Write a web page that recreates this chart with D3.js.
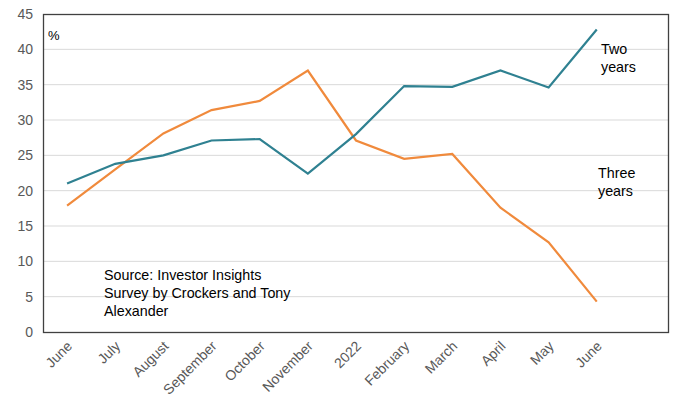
<!DOCTYPE html>
<html>
<head>
<meta charset="utf-8">
<script src="https://cdn.jsdelivr.net/npm/d3@7"></script>
<style>
  body { margin: 0; background: white; }
  text { font-family: "Liberation Sans", Arial, sans-serif; }
</style>
</head>
<body>
<script>
const categories = ["June", "July", "August", "September", "October", "November", "2022", "February", "March", "April", "May", "June"]
const twoYears = [21, 23.8, 25, 27.1, 27.3, 22.4, 28, 34.8, 34.7, 37, 34.6, 42.8]
const threeYears = [17.9, 23, 28.1, 31.4, 32.7, 37, 27.1, 24.5, 25.2, 17.6, 12.7, 4.3]
const yTicks = [0, 5, 10, 15, 20, 25, 30, 35, 40, 45]

const w = 678
const h = 400
const m = {top: 14, right: 9, bottom: 68, left: 43}

// 13 slots, the last one is left empty like the original
const slots = categories.map((d, i) => i).concat([12])
const xScale = d3.scaleBand()
                 .domain(slots)
                 .range([m.left, w - m.right])
const yScale = d3.scaleLinear()
                 .domain([0, 45])
                 .range([h - m.bottom, m.top])
const cx = (i) => xScale(i) + xScale.bandwidth() / 2

const svg = d3.select("body")
              .append("svg")
              .attr("width", w)
              .attr("height", h)

// gridlines
svg.append("g")
   .selectAll("line")
   .data(yTicks.slice(1, -1))
   .enter()
   .append("line")
   .attr("x1", m.left)
   .attr("x2", w - m.right)
   .attr("y1", (d) => yScale(d))
   .attr("y2", (d) => yScale(d))
   .attr("stroke", "#d9d9d9")
   .attr("stroke-width", 1)

// y axis labels
const yAxis = d3.axisLeft(yScale).tickValues(yTicks).tickSize(0).tickPadding(10)
const gy = svg.append("g")
   .attr("transform", "translate(" + m.left + ",0)")
   .call(yAxis)
gy.select(".domain").remove()
gy.selectAll("text")
  .attr("fill", "#595959")
  .style("font-size", "14px")

// x axis labels
const xAxis = d3.axisBottom(xScale)
                .tickValues(categories.map((d, i) => i))
                .tickFormat((i) => categories[i])
                .tickSize(0)
const gx = svg.append("g")
   .attr("transform", "translate(0," + (h - m.bottom) + ")")
   .call(xAxis)
gx.select(".domain").remove()
gx.selectAll("text")
  .attr("fill", "#595959")
  .style("font-size", "14px")
  .attr("text-anchor", "end")
  .attr("dy", null)
  .attr("y", 0)
  .attr("transform", "translate(6,15) rotate(-45)")

// frame
svg.append("rect")
   .attr("x", m.left + 0.5)
   .attr("y", m.top + 0.5)
   .attr("width", w - m.left - m.right - 1)
   .attr("height", h - m.top - m.bottom)
   .attr("fill", "none")
   .attr("stroke", "#404040")
   .attr("stroke-width", 1.3)

const line = d3.line()
               .x((d, i) => cx(i))
               .y((d) => yScale(d))

svg.append("path")
   .datum(threeYears)
   .attr("fill", "none")
   .attr("stroke", "#f08a3c")
   .attr("stroke-width", 2.2)
   .attr("d", line)

svg.append("path")
   .datum(twoYears)
   .attr("fill", "none")
   .attr("stroke", "#2f8191")
   .attr("stroke-width", 2.2)
   .attr("d", line)

// annotations
svg.append("text")
   .attr("x", m.left + 5)
   .attr("y", 40)
   .style("font-size", "13px")
   .attr("fill", "#000")
   .text("%")

const note = (lines, x, y) => {
  const t = svg.append("text")
               .attr("x", x)
               .attr("y", y)
               .style("font-size", "14.3px")
               .attr("fill", "#000")
  lines.forEach((s, i) => {
    t.append("tspan").attr("x", x).attr("dy", i ? 18 : 0).text(s)
  })
}
note(["Two", "years"], 601, 54)
note(["Three", "years"], 598, 178)
note(["Source: Investor Insights", "Survey by Crockers and Tony", "Alexander"], 104, 280)
</script>
</body>
</html>
